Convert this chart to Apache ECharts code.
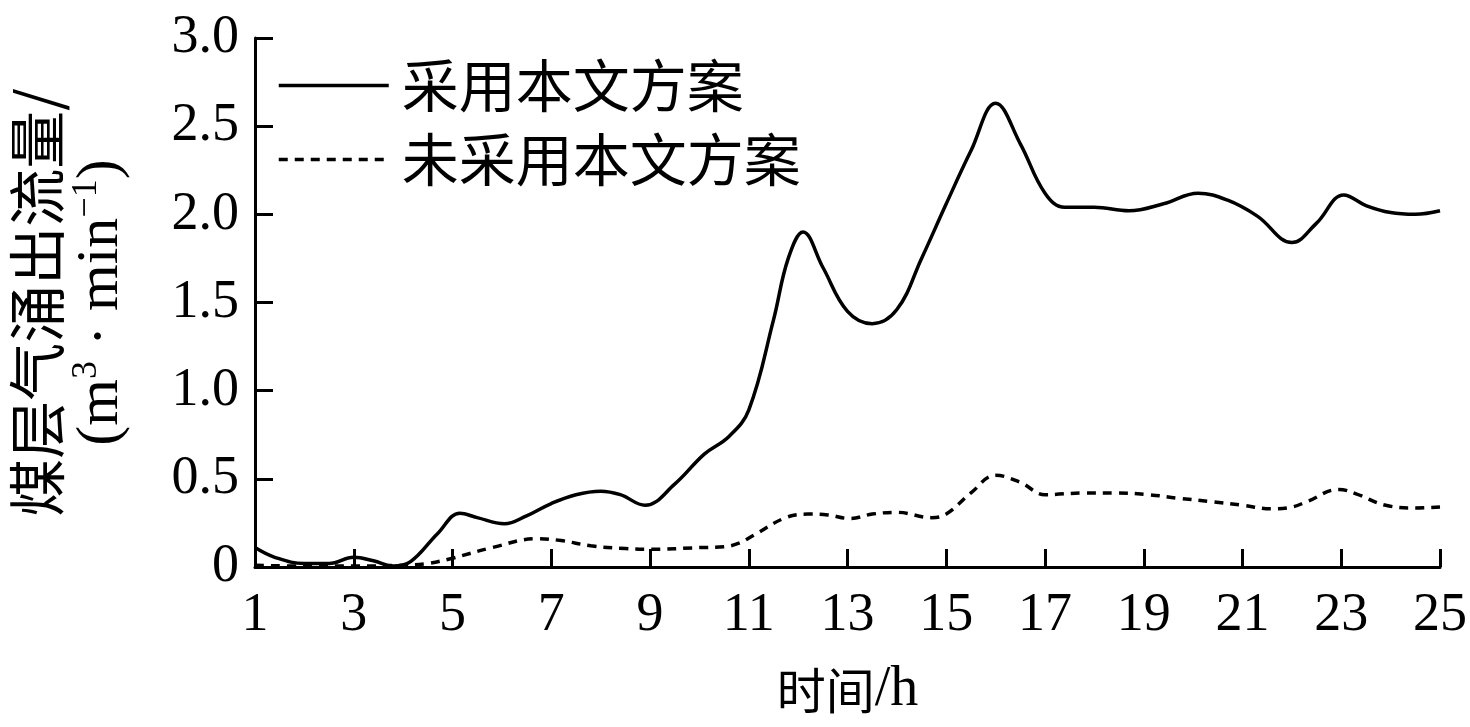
<!DOCTYPE html>
<html>
<head>
<meta charset="utf-8">
<script src="https://cdn.jsdelivr.net/npm/echarts@6/dist/echarts.min.js"></script>
<style>
html,body{margin:0;padding:0;background:#fff;}
#c{width:1470px;height:727px;}
</style>
</head>
<body>
<div id="c"></div>
<script>
const seriesNames = ['采用本文方案', '未采用本文方案'];
const adoptedHours = [1, 1.4, 2, 2.5, 3, 3.4, 3.8, 4.15, 4.7, 5.15, 5.5, 6.05, 6.5, 7, 7.5, 8, 8.4, 8.9, 9.5, 10.1, 10.6, 11, 11.5, 11.8, 12.1, 12.5, 13, 13.5, 14, 14.5, 15, 15.5, 16, 16.5, 17, 17.4, 18, 18.7, 19.4, 20.1, 20.7, 21.3, 22, 22.5, 23.05, 23.5, 24, 24.5, 25];
const adoptedFlow = [0.11, 0.055, 0.02, 0.02, 0.055, 0.035, 0.005, 0.03, 0.19, 0.305, 0.28, 0.245, 0.29, 0.36, 0.41, 0.43, 0.41, 0.35, 0.47, 0.64, 0.74, 0.89, 1.4, 1.75, 1.9, 1.7, 1.45, 1.38, 1.46, 1.75, 2.06, 2.36, 2.63, 2.4, 2.12, 2.04, 2.04, 2.02, 2.06, 2.12, 2.08, 1.99, 1.84, 1.95, 2.11, 2.05, 2.01, 2.0, 2.02];
const baseHours = [1, 2, 3, 4, 4.5, 5, 5.8, 6.7, 7.2, 7.8, 8.5, 9, 10, 10.5, 10.8, 11.1, 11.75, 12.2, 12.6, 13.05, 13.5, 14, 14.7, 15, 15.5, 16, 16.5, 17, 17.8, 18.4, 19.1, 19.7, 20.4, 21, 21.6, 22, 22.3, 22.95, 23.3, 23.9, 24.5, 25];
const baseFlow = [0.01, 0.005, 0.005, 0.01, 0.02, 0.05, 0.11, 0.16, 0.15, 0.12, 0.105, 0.1, 0.11, 0.115, 0.135, 0.18, 0.28, 0.3, 0.295, 0.275, 0.3, 0.31, 0.28, 0.3, 0.42, 0.52, 0.48, 0.41, 0.42, 0.42, 0.41, 0.39, 0.37, 0.35, 0.33, 0.34, 0.37, 0.44, 0.415, 0.35, 0.335, 0.34];
const xTickValues = [1, 3, 5, 7, 9, 11, 13, 15, 17, 19, 21, 23, 25];
const yTickValues = [0, 0.5, 1.0, 1.5, 2.0, 2.5, 3.0];

const CJK = '"Noto Sans CJK SC"';
const SERIF = '"Liberation Serif", "DejaVu Serif", serif';

const chart = echarts.init(document.getElementById('c'), null, {renderer: 'canvas'});
const pair = (xs, ys) => xs.map((x, i) => [x, ys[i]]);

chart.setOption({
  animation: false,
  backgroundColor: '#fff',
  grid: {left: 250, right: 30, top: 38, bottom: 160, containLabel: false},
  legend: {
    orient: 'vertical',
    left: 272,
    top: 52,
    itemWidth: 110,
    itemHeight: 20,
    itemGap: 17,
    data: seriesNames,
    itemStyle: {opacity: 0},
    lineStyle: {width: 3.5},
    textStyle: {fontFamily: CJK, fontSize: 57, color: '#000', padding: [0, 0, 0, 8], lineHeight: 54}
  },
  xAxis: {
    type: 'value',
    min: 1, max: 25,
    name: '{c|时间}{t|/h}',
    nameLocation: 'middle',
    nameGap: 95,
    nameTextStyle: {
      color: '#000',
      rich: {
        c: {fontFamily: CJK, fontSize: 49, color: '#000', lineHeight: 56},
        t: {fontFamily: SERIF, fontSize: 56, color: '#000', lineHeight: 56}
      }
    },
    axisLine: {lineStyle: {color: '#000', width: 3}},
    axisTick: {inside: true, length: 18, lineStyle: {color: '#000', width: 3}, customValues: xTickValues},
    axisLabel: {customValues: xTickValues, fontFamily: SERIF, fontSize: 54, color: '#000', margin: 22},
    splitLine: {show: false}
  },
  yAxis: {
    type: 'value',
    min: 0, max: 3, interval: 0.5,
    name: '{a|煤层气涌出流量/}\n{b|(m}{s|3}{b| · min}{s|−1}{b|)}',
    nameLocation: 'middle',
    nameRotate: 90,
    nameGap: 122,
    nameTextStyle: {
      color: '#000',
      rich: {
        a: {fontFamily: CJK, fontSize: 58, lineHeight: 64, color: '#000'},
        b: {fontFamily: SERIF, fontSize: 60, lineHeight: 64, color: '#000'},
        s: {fontFamily: SERIF, fontSize: 36, lineHeight: 64, color: '#000', verticalAlign: 'top', padding: [0, 0, 26, 0]}
      }
    },
    axisLine: {show: true, lineStyle: {color: '#000', width: 3}},
    axisTick: {show: true, inside: true, length: 18, lineStyle: {color: '#000', width: 3}},
    axisLabel: {
      fontFamily: SERIF, fontSize: 54, color: '#000', margin: 16,
      formatter: v => (v === 0 ? '0' : v.toFixed(1))
    },
    splitLine: {show: false}
  },
  series: [
    {
      name: seriesNames[0], type: 'line', data: pair(adoptedHours, adoptedFlow),
      smooth: 0.4, symbol: 'none', lineStyle: {color: '#000', width: 3.5}, itemStyle: {color: '#000'}
    },
    {
      name: seriesNames[1], type: 'line', data: pair(baseHours, baseFlow),
      smooth: 0.4, symbol: 'none', lineStyle: {color: '#000', width: 3.5, type: [9, 7]}, itemStyle: {color: '#000'}
    }
  ]
});
</script>
</body>
</html>
